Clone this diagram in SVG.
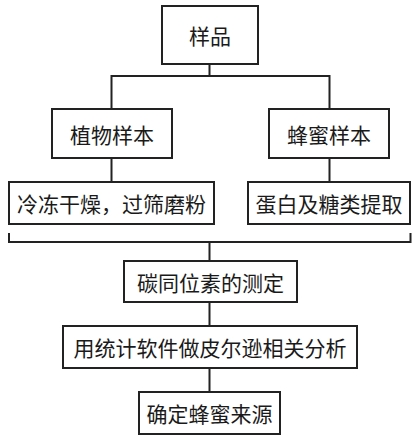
<svg xmlns="http://www.w3.org/2000/svg" width="419" height="439" viewBox="0 0 419 439">
<style>
rect.box{fill:#fff;stroke:#222;stroke-width:2}
text{font-family:"Noto Sans CJK SC","Noto Sans",sans-serif;font-size:21px;fill:#1a1a1a;text-anchor:middle;dominant-baseline:central}
.conn{fill:none;stroke:#222;stroke-width:2}
</style>
<rect width="419" height="439" fill="#fff"/>
<g id="connectors">
<path class="conn" d="M209.5 64V76M111.5 109V76H329.5V109"/>
<path class="conn" d="M111.5 158V182M329.5 158V182"/>
<path class="conn" d="M9 233V242H410.5V233M209.5 242V261"/>
<path class="conn" d="M209.5 302V326M209.5 368V392"/>
</g>
<g id="n1"><rect class="box" x="162" y="6" width="96" height="58"/><text x="210" y="35">样品</text></g>
<g id="n2"><rect class="box" x="52" y="109" width="120" height="49"/><text x="112" y="134">植物样本</text></g>
<g id="n3"><rect class="box" x="269" y="109" width="120" height="49"/><text x="329" y="134">蜂蜜样本</text></g>
<g id="n4"><rect class="box" x="9" y="182" width="205" height="42"/><text x="111.5" y="203">冷冻干燥，过筛磨粉</text></g>
<g id="n5"><rect class="box" x="248" y="182" width="162" height="42"/><text x="329" y="203">蛋白及糖类提取</text></g>
<g id="n6"><rect class="box" x="124" y="261" width="173" height="41"/><text x="210.5" y="281.5">碳同位素的测定</text></g>
<g id="n7"><rect class="box" x="63" y="326" width="294" height="42"/><text x="210" y="347">用统计软件做皮尔逊相关分析</text></g>
<g id="n8"><rect class="box" x="139" y="392" width="141" height="42"/><text x="209.5" y="413">确定蜂蜜来源</text></g>
</svg>
